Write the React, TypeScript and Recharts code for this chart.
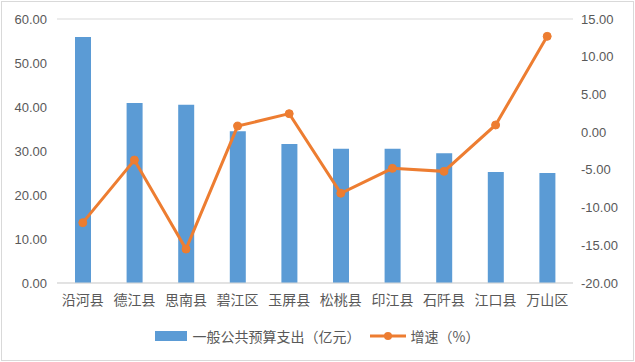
import React from "react";
import {
  ComposedChart,
  Bar,
  Line,
  XAxis,
  YAxis,
  CartesianGrid,
  Legend,
} from "recharts";

const counties = [
  "沿河县",
  "德江县",
  "思南县",
  "碧江区",
  "玉屏县",
  "松桃县",
  "印江县",
  "石阡县",
  "江口县",
  "万山区",
];
const spending = [55.9, 40.9, 40.5, 34.5, 31.6, 30.5, 30.5, 29.5, 25.2, 25.0];
const growth = [-12.0, -3.7, -15.5, 0.8, 2.45, -8.1, -4.8, -5.2, 0.95, 12.7];
const leftTicks = [0, 10, 20, 30, 40, 50, 60];
const rightTicks = [-20, -15, -10, -5, 0, 5, 10, 15];

const BAR = "#5b9bd5";
const LINE = "#ed7d31";
const TEXT = "#595959";
const GRID = "#d9d9d9";
const NUM_FONT = "'Liberation Sans', Arial, sans-serif";
const CJK_FONT = "'Noto Sans CJK SC', sans-serif";

const data = counties.map((name, i) => ({
  name,
  spending: spending[i],
  growth: growth[i],
}));

function LegendContent() {
  return (
    <div
      style={{
        display: "flex",
        justifyContent: "center",
        alignItems: "center",
        fontFamily: CJK_FONT,
        fontSize: 14,
        color: TEXT,
        paddingRight: 4,
      }}
    >
      <span
        style={{
          display: "inline-block",
          width: 32,
          height: 10,
          background: BAR,
          marginRight: 6,
        }}
      />
      <span>一般公共预算支出（亿元）</span>
      <svg width={38} height={12} style={{ marginLeft: 8, marginRight: 4 }}>
        <line x1={1} y1={6} x2={37} y2={6} stroke={LINE} strokeWidth={3} />
        <circle cx={19} cy={6} r={4} fill={LINE} />
      </svg>
      <span>增速（%）</span>
    </div>
  );
}

export default function App() {
  return (
    <div
      style={{
        position: "absolute",
        left: 0,
        top: 0,
        width: 635,
        height: 362,
        background: "#fff",
      }}
    >
      <div
        style={{
          position: "absolute",
          left: 1,
          top: 1,
          width: 631,
          height: 358,
          border: `1px solid ${GRID}`,
        }}
      />
      <ComposedChart
        width={635}
        height={362}
        data={data}
        margin={{ top: 19, right: 5, left: 8, bottom: 29 }}
      >
        <CartesianGrid vertical={false} stroke={GRID} />
        <XAxis
          dataKey="name"
          axisLine={{ stroke: GRID }}
          tickLine={false}
          height={30}
          tick={{ fill: TEXT, fontSize: 14, fontFamily: CJK_FONT }}
          tickMargin={6}
        />
        <YAxis
          yAxisId="left"
          domain={[0, 60]}
          ticks={leftTicks}
          width={49}
          axisLine={false}
          tickLine={false}
          tickFormatter={(v: number) => v.toFixed(2)}
          tick={{ fill: TEXT, fontSize: 13, fontFamily: NUM_FONT }}
          tickMargin={4}
        />
        <YAxis
          yAxisId="right"
          orientation="right"
          domain={[-20, 15]}
          ticks={rightTicks}
          width={57}
          axisLine={false}
          tickLine={false}
          tickFormatter={(v: number) => v.toFixed(2)}
          tick={{ fill: TEXT, fontSize: 13, fontFamily: NUM_FONT }}
          tickMargin={2}
        />
        <Legend
          verticalAlign="bottom"
          content={<LegendContent />}
          wrapperStyle={{ bottom: 16 }}
        />
        <Bar
          yAxisId="left"
          dataKey="spending"
          fill={BAR}
          barSize={16}
          isAnimationActive={false}
        />
        <Line
          yAxisId="right"
          dataKey="growth"
          stroke={LINE}
          strokeWidth={3}
          dot={{ r: 4, fill: LINE, stroke: LINE, strokeWidth: 1 }}
          activeDot={false}
          isAnimationActive={false}
        />
      </ComposedChart>
    </div>
  );
}
